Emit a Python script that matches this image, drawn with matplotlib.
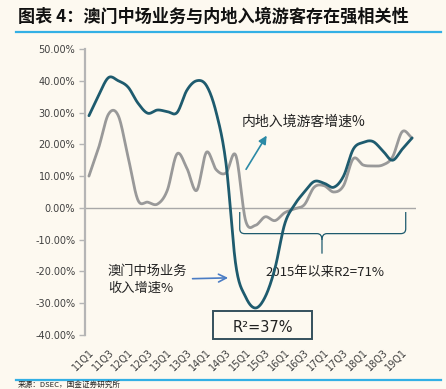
import numpy as np
import matplotlib
matplotlib.use("Agg")
import matplotlib.pyplot as plt
from matplotlib.patches import FancyArrowPatch, Rectangle, PathPatch
from matplotlib.path import Path

plt.rcParams['font.family'] = ['DejaVu Sans', 'Noto Sans CJK SC']

# ---------------- data ----------------
quarters = [f"{y}Q{q}" for y in range(11, 20) for q in range(1, 5)][:34]  # 11Q1 .. 19Q2
macau_mass = [29, 35.5, 41, 40, 38, 33, 29.8, 30.8, 30.3, 30, 37, 40, 38.5, 30,
              14, -18, -28, -31.5, -28, -19, -5, 1, 5, 8.3, 7.8, 6.5,
              10, 18.5, 20.6, 20.9, 18, 15, 18.5, 22]
mainland_visitors = [10, 19, 29.5, 29, 16, 2.5, 1.8, 1.2, 5.5, 17, 12.5, 5.5, 17.5, 12,
                     11, 16.5, -4, -5.5, -2.8, -4, -1.5, -0.3, 1, 6.5, 7, 5,
                     7, 15.5, 13.5, 13.2, 13.5, 16, 24, 22]
yticks = [50, 40, 30, 20, 10, 0, -10, -20, -30, -40]

title = "图表 4：澳门中场业务与内地入境游客存在强相关性"
source = "来源：DSEC，国金证券研究所"

BG = "#FDF9F0"
DARK = "#1E5B6E"
GRAY = "#999999"
CJK = ['Noto Sans CJK SC', 'DejaVu Sans']


def smooth(vals, n=24):
    y = np.asarray(vals, float)
    P = np.concatenate([[2 * y[0] - y[1]], y, [2 * y[-1] - y[-2]]])
    xs, ys = [], []
    t = np.linspace(0, 1, n, endpoint=False)
    for i in range(len(y) - 1):
        p0, p1, p2, p3 = P[i], P[i + 1], P[i + 2], P[i + 3]
        seg = 0.5 * ((2 * p1) + (-p0 + p2) * t + (2 * p0 - 5 * p1 + 4 * p2 - p3) * t ** 2
                     + (-p0 + 3 * p1 - 3 * p2 + p3) * t ** 3)
        xs.append(i + t)
        ys.append(seg)
    xs.append([len(y) - 1])
    ys.append([y[-1]])
    return np.concatenate(xs), np.concatenate(ys)


W, H = 446, 389
fig = plt.figure(figsize=(W / 100, H / 100), dpi=100, facecolor=BG)


def fx(px):
    return px / W


def fy(py):
    return 1 - py / H


ax = fig.add_axes([fx(85), fy(335), fx(416) - fx(85), fy(49) - fy(335)])
ax.set_facecolor(BG)
ax.patch.set_alpha(0)

x = np.arange(len(quarters))
sx, sy = smooth(mainland_visitors)
ax.plot(sx, sy, color=GRAY, lw=2.0, solid_capstyle='round', zorder=3)
sx, sy = smooth(macau_mass)
ax.plot(sx, sy, color=DARK, lw=2.0, solid_capstyle='round', zorder=4)

ax.axhline(0, color="#A8A8A8", lw=1.0, zorder=2)

ax.set_xlim(-0.4, 33.4)
ax.set_ylim(-40, 50)
ax.set_yticks(yticks)
ax.set_yticklabels([f"{v:.2f}%" for v in yticks], fontsize=7, color="#404040")
ax.set_xticks(x[::2])
ax.set_xticklabels(quarters[::2], rotation=45, ha='right', va='top',
                   rotation_mode='anchor', fontsize=7, color="#404040")
ax.tick_params(axis='x', length=0, pad=9)
ax.tick_params(axis='y', length=4, width=1, color="#B5B5B5", pad=3)
for s in ['top', 'right', 'bottom']:
    ax.spines[s].set_visible(False)
ax.spines['left'].set_color("#B5B5B5")
ax.spines['left'].set_linewidth(1.6)

# annotations
ax.text(15.55, 27.1, "内地入境游客增速%", fontsize=10, family=CJK, color="#222222",
        ha='left', va='center')
ax.add_patch(FancyArrowPatch((15.9, 11.4), (18.3, 23.5), arrowstyle='-|>',
                             mutation_scale=12, color="#2B8AA6", lw=1.2))
ax.text(1.94, -19.9, "澳门中场业务", fontsize=9.5, family=CJK, color="#222222",
        ha='left', va='center')
ax.text(1.94, -25.4, "收入增速%", fontsize=9.5, family=CJK, color="#222222",
        ha='left', va='center')
ax.add_patch(FancyArrowPatch((10.3, -22.3), (14.5, -22.0), arrowstyle='->',
                             mutation_scale=14, color="#4A7CC4", lw=1.2, zorder=5))

# brace
xl, xm, xr = 15.4, 23.8, 32.35
ytop, yh, ytip = -1.3, -8.1, -14.4
r = 0.5
verts = [(xl, ytop), (xl, yh + 1.5), (xl, yh), (xl + r, yh),
         (xm - r, yh), (xm, yh), (xm, yh - 2.0), (xm, ytip)]
codes = [Path.MOVETO, Path.LINETO, Path.CURVE3, Path.CURVE3,
         Path.LINETO, Path.CURVE3, Path.CURVE3, Path.LINETO]
ax.add_patch(PathPatch(Path(verts, codes), fill=False, ec=DARK, lw=0.9))
verts2 = [(xr, ytop), (xr, yh + 1.5), (xr, yh), (xr - r, yh),
          (xm + r, yh), (xm, yh), (xm, yh - 2.0)]
codes2 = [Path.MOVETO, Path.LINETO, Path.CURVE3, Path.CURVE3,
          Path.LINETO, Path.CURVE3, Path.CURVE3]
ax.add_patch(PathPatch(Path(verts2, codes2), fill=False, ec=DARK, lw=0.9))
ax.text(24.1, -20.2, "2015年以来R2=71%", fontsize=9.5, family=CJK, color="#222222",
        ha='center', va='center')

# R2 box (figure coords)
fig.patches.append(Rectangle((fx(213.3), fy(339)), fx(311.7) - fx(213.3), fy(311) - fy(339),
                             transform=fig.transFigure, fc=BG, ec="#34505C", lw=1.4, zorder=10))
fig.text(fx(263), fy(327), "R²=37%", fontsize=10.5, color="#222222", ha='center',
         va='center', zorder=11)

# title & frame lines
fig.text(fx(18), fy(17), title, fontsize=12.3, family=CJK, fontweight='bold',
         color="#111111", ha='left', va='center')
fig.add_artist(plt.Line2D([fx(16), fx(441)], [fy(32), fy(32)], color="#33B0E5", lw=1.6))
fig.add_artist(plt.Line2D([fx(16), fx(441)], [fy(380), fy(380)], color="#33B0E5", lw=1.6))
fig.text(fx(18), fy(388.5), source, fontsize=5.5, family=CJK, color="#222222",
         ha='left', va='bottom')

fig.savefig("out.png", dpi=100, facecolor=BG)
